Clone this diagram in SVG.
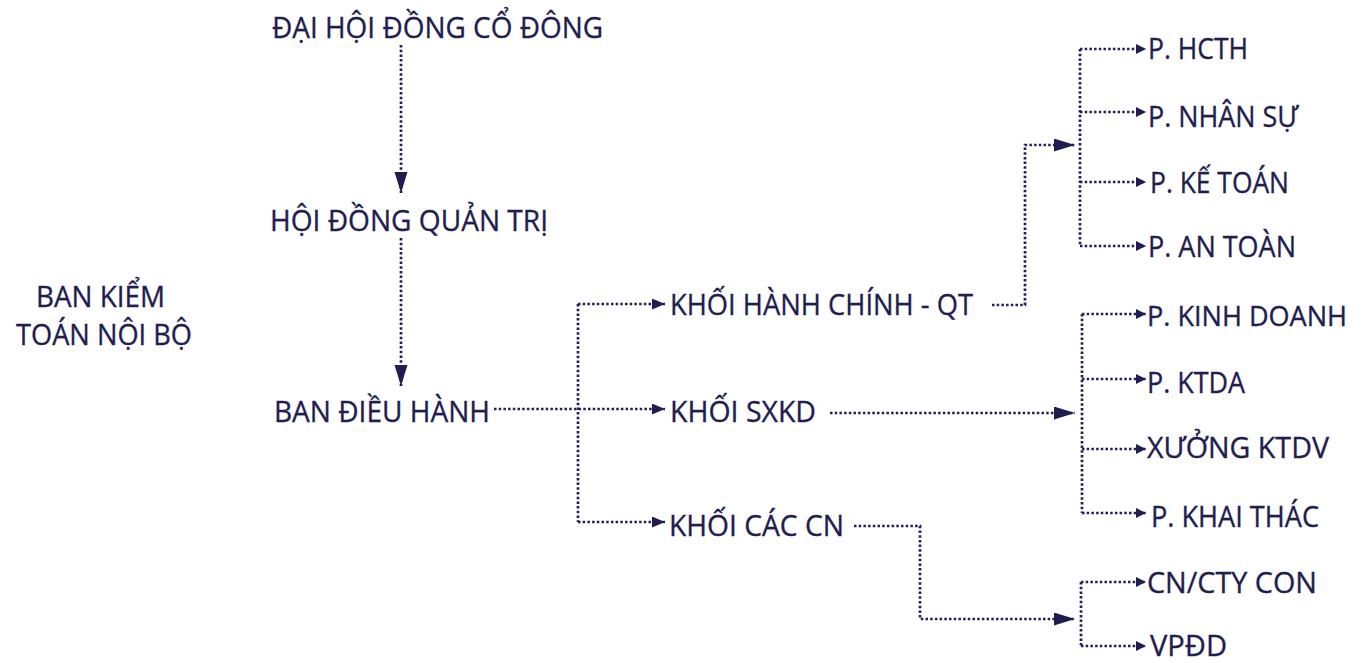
<svg xmlns="http://www.w3.org/2000/svg" width="1365" height="663" viewBox="0 0 1365 663">
<style>
  text { font-family: "Open Sans", "Noto Sans", "Liberation Sans", sans-serif; font-size: 30px; fill: #211d50; stroke: #211d50; stroke-width: 0.35; }
  .c { fill: none; stroke: #231f58; stroke-width: 2.7; stroke-dasharray: 2.5 2.2; }
</style>
<defs>
  <marker id="big" markerUnits="userSpaceOnUse" markerWidth="22" markerHeight="14" refX="21" refY="6.5" orient="auto">
    <path d="M0,0 L21,6.5 L0,13 z" fill="#211d50"/>
  </marker>
  <marker id="mid" markerUnits="userSpaceOnUse" markerWidth="14" markerHeight="12" refX="13" refY="5.5" orient="auto">
    <path d="M0,0 L13,5.5 L0,11 z" fill="#211d50"/>
  </marker>
  <marker id="sml" markerUnits="userSpaceOnUse" markerWidth="11" markerHeight="11" refX="10" refY="5" orient="auto">
    <path d="M0,0 L10,5 L0,10 z" fill="#211d50"/>
  </marker>
</defs>
<rect width="1365" height="663" fill="#ffffff"/>
<g id="connectors">
  <path class="c" d="M401,45 V193" marker-end="url(#big)"/>
  <path class="c" d="M401,238 V386" marker-end="url(#big)"/>
  <path class="c" d="M494,409 H665" marker-end="url(#mid)"/>
  <path class="c" d="M578,304 V522"/>
  <path class="c" d="M578,304 H665" marker-end="url(#mid)"/>
  <path class="c" d="M578,522 H665" marker-end="url(#mid)"/>
  <path class="c" d="M992,305 H1025 V145 H1075" marker-end="url(#big)"/>
  <path class="c" d="M1080,49 V246"/>
  <path class="c" d="M1080,49 H1146" marker-end="url(#sml)"/>
  <path class="c" d="M1080,112 H1146" marker-end="url(#sml)"/>
  <path class="c" d="M1080,182 H1146" marker-end="url(#sml)"/>
  <path class="c" d="M1080,246 H1146" marker-end="url(#sml)"/>
  <path class="c" d="M830,413 H1075" marker-end="url(#big)"/>
  <path class="c" d="M1082,314 V513"/>
  <path class="c" d="M1082,314 H1146" marker-end="url(#sml)"/>
  <path class="c" d="M1082,379 H1146" marker-end="url(#sml)"/>
  <path class="c" d="M1082,449 H1146" marker-end="url(#sml)"/>
  <path class="c" d="M1082,513 H1146" marker-end="url(#sml)"/>
  <path class="c" d="M854,526 H920 V619 H1075" marker-end="url(#big)"/>
  <path class="c" d="M1081,582 V646"/>
  <path class="c" d="M1081,582 H1146" marker-end="url(#sml)"/>
  <path class="c" d="M1081,646 H1146" marker-end="url(#sml)"/>
</g>
<g id="n-dhdcd"><text x="272" y="38" textLength="331" lengthAdjust="spacingAndGlyphs">ĐẠI HỘI ĐỒNG CỔ ĐÔNG</text></g>
<g id="n-hdqt"><text x="270" y="231" textLength="278" lengthAdjust="spacingAndGlyphs">HỘI ĐỒNG QUẢN TRỊ</text></g>
<g id="n-bdh"><text x="274" y="422" textLength="216" lengthAdjust="spacingAndGlyphs">BAN ĐIỀU HÀNH</text></g>
<g id="n-bktnb">
  <text x="36" y="307" textLength="129" lengthAdjust="spacingAndGlyphs">BAN KIỂM</text>
  <text x="16" y="345" textLength="176" lengthAdjust="spacingAndGlyphs">TOÁN NỘI BỘ</text>
</g>
<g id="n-khcqt"><text x="670" y="315" textLength="303" lengthAdjust="spacingAndGlyphs">KHỐI HÀNH CHÍNH - QT</text></g>
<g id="n-ksxkd"><text x="670" y="422" textLength="146" lengthAdjust="spacingAndGlyphs">KHỐI SXKD</text></g>
<g id="n-kccn"><text x="669" y="536" textLength="175" lengthAdjust="spacingAndGlyphs">KHỐI CÁC CN</text></g>
<g id="n-hcth"><text x="1148" y="59" textLength="100" lengthAdjust="spacingAndGlyphs">P. HCTH</text></g>
<g id="n-ns"><text x="1148" y="127" textLength="150" lengthAdjust="spacingAndGlyphs">P. NHÂN SỰ</text></g>
<g id="n-kt"><text x="1150" y="193" textLength="139" lengthAdjust="spacingAndGlyphs">P. KẾ TOÁN</text></g>
<g id="n-at"><text x="1148" y="257" textLength="148" lengthAdjust="spacingAndGlyphs">P. AN TOÀN</text></g>
<g id="n-kd"><text x="1147" y="326" style="font-size:28px" textLength="200" lengthAdjust="spacingAndGlyphs">P. KINH DOANH</text></g>
<g id="n-ktda"><text x="1147" y="393" textLength="98" lengthAdjust="spacingAndGlyphs">P. KTDA</text></g>
<g id="n-xktdv"><text x="1147" y="458" textLength="182" lengthAdjust="spacingAndGlyphs">XƯỞNG KTDV</text></g>
<g id="n-kthac"><text x="1151" y="527" textLength="168" lengthAdjust="spacingAndGlyphs">P. KHAI THÁC</text></g>
<g id="n-cncty"><text x="1147" y="593" textLength="170" lengthAdjust="spacingAndGlyphs">CN/CTY CON</text></g>
<g id="n-vpdd"><text x="1150" y="656" textLength="77" lengthAdjust="spacingAndGlyphs">VPĐD</text></g>
</svg>
